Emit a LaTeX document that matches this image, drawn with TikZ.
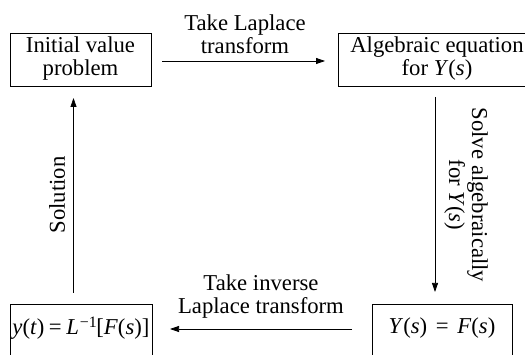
\documentclass[tikz,border=0pt]{standalone}
\usepackage{fontspec}
\setmainfont{Liberation Serif}
\usetikzlibrary{arrows.meta}
\tikzset{
  box/.style={draw, line width=0.75pt, inner sep=0pt},
  lbl/.style={align=center, inner sep=0pt, font=\fontsize{22.7}{23}\selectfont},
  conn/.style={line width=0.75pt, -{Triangle[length=9pt,width=6pt]}}
}
\newcommand{\eqsp}{\hspace{0.38em}=\hspace{0.38em}}
\begin{document}
\begin{tikzpicture}[x=1pt,y=-1pt]
\useasboundingbox (0,0) rectangle (525,355);
\clip (0,0) rectangle (525,355);
% boxes
\node[box, minimum width=141pt, minimum height=53pt] (b1) at (80.5,59.5) {};
\node[box, minimum width=194pt, minimum height=53pt] (b2) at (435,59.5) {};
\node[box, minimum width=142pt, minimum height=56pt] (b3) at (81,332) {};
\node[box, minimum width=140pt, minimum height=56pt] (b4) at (442,332) {};
% box texts
\node[lbl] (t1) at (80.5,59) {Initial value\\problem};
\node[lbl] (t2) at (437,59) {Algebraic equation\\for \textit{Y}(\textit{s})};
\node[lbl] (t3) at (81,328) {\textit{y}(\textit{t})\hspace{0.2em}=\hspace{0.2em}\textit{L}\kern1pt\textsuperscript{−1}\kern-1pt[\textit{F}(\textit{s})]};
\node[lbl] (t4) at (442,328) {\textit{Y}(\textit{s})\eqsp\textit{F}(\textit{s})};
% connector end points
\coordinate (a1) at (162,61);
\coordinate (a2) at (325,61);
\coordinate (c1) at (435,97);
\coordinate (c2) at (435,292);
\coordinate (d1) at (352,329);
\coordinate (d2) at (170,329);
\coordinate (e1) at (73.5,293);
\coordinate (e2) at (73.5,98);
\draw[conn] (a1) -- (a2);
\draw[conn] (c1) -- (c2);
\draw[conn] (d1) -- (d2);
\draw[conn] (e1) -- (e2);
% labels
\node[lbl] (l1) at (245,34) {Take Laplace\\transform};
\node[lbl] (l2) at (261,297) {Take inverse\\Laplace transform};
\node[lbl, rotate=-90] (l3) at (466,195) {Solve algebraically\\for \textit{Y}(\textit{s})};
\node[lbl, rotate=90] (l4) at (57,195) {Solution};
\end{tikzpicture}
\end{document}
